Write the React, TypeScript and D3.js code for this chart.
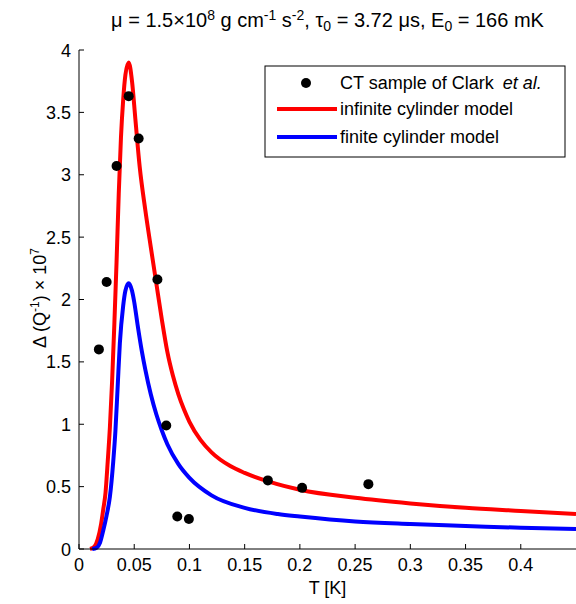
import React from "react";
import * as d3 from "d3";

const W = 576;
const H = 604;

// Measured data points: CT sample of Clark et al.
const DATA_T = [0.018, 0.025, 0.034, 0.045, 0.054, 0.071, 0.079, 0.089, 0.0995, 0.171, 0.202, 0.262];
const DATA_Q = [1.6, 2.14, 3.07, 3.63, 3.29, 2.16, 0.99, 0.26, 0.24, 0.55, 0.49, 0.52];

// Infinite cylinder model
const RED_T = [0.010, 0.014, 0.017, 0.020, 0.022, 0.024, 0.026, 0.028, 0.030, 0.032, 0.034, 0.036, 0.038, 0.040, 0.042, 0.045, 0.048, 0.051, 0.055, 0.060, 0.065, 0.070, 0.075, 0.080, 0.085, 0.090, 0.095, 0.100, 0.110, 0.120, 0.137, 0.150, 0.172, 0.200, 0.250, 0.300, 0.350, 0.400, 0.450];
const RED_Q = [0, 0.02, 0.08, 0.2, 0.32, 0.45, 0.7, 0.98, 1.35, 1.8, 2.3, 2.85, 3.3, 3.6, 3.8, 3.9, 3.75, 3.45, 3.06, 2.72, 2.42, 2.13, 1.84, 1.58, 1.39, 1.24, 1.12, 1.02, 0.875, 0.775, 0.665, 0.61, 0.54, 0.475, 0.41, 0.365, 0.33, 0.305, 0.28];

// Finite cylinder model
const BLUE_T = [0.012, 0.016, 0.019, 0.022, 0.025, 0.028, 0.031, 0.033, 0.035, 0.037, 0.040, 0.042, 0.045, 0.048, 0.050, 0.053, 0.057, 0.060, 0.065, 0.070, 0.075, 0.080, 0.090, 0.100, 0.120, 0.150, 0.180, 0.200, 0.250, 0.300, 0.350, 0.400, 0.450];
const BLUE_Q = [0, 0.01, 0.05, 0.15, 0.27, 0.42, 0.7, 0.95, 1.3, 1.65, 1.95, 2.07, 2.13, 2.07, 1.98, 1.8, 1.58, 1.44, 1.24, 1.08, 0.95, 0.84, 0.68, 0.57, 0.43, 0.33, 0.28, 0.26, 0.22, 0.2, 0.185, 0.17, 0.16];

const X_TICKS = [0, 0.05, 0.1, 0.15, 0.2, 0.25, 0.3, 0.35, 0.4];
const X_TICK_LABELS = ["0", "0.05", "0.1", "0.15", "0.2", "0.25", "0.3", "0.35", "0.4"];
const Y_TICKS = [0, 0.5, 1, 1.5, 2, 2.5, 3, 3.5, 4];
const Y_TICK_LABELS = ["0", "0.5", "1", "1.5", "2", "2.5", "3", "3.5", "4"];

const LEGEND_LABELS = ["CT sample of Clark", "infinite cylinder model", "finite cylinder model"];

const FONT = "'Liberation Sans', Arial, Helvetica, sans-serif";

export default function App() {
  const x = d3.scaleLinear().domain([0, 0.45]).range([79, 576]);
  const y = d3.scaleLinear().domain([0, 4]).range([549, 50]);

  const line = d3
    .line<[number, number]>()
    .x((d) => x(d[0]))
    .y((d) => y(d[1]))
    .curve(d3.curveMonotoneX);

  const redPath = line(RED_T.map((t, i) => [t, RED_Q[i]] as [number, number])) || "";
  const bluePath = line(BLUE_T.map((t, i) => [t, BLUE_Q[i]] as [number, number])) || "";

  const fs = 18;
  const axisCenter = (x.range()[0] + x.range()[1]) / 2;

  return (
    <svg
      width={W}
      height={H}
      style={{ position: "absolute", left: 0, top: 0, background: "#fff" }}
      fontFamily={FONT}
    >
      <rect x={0} y={0} width={W} height={H} fill="#fff" />
      {/* Title */}
      <text x={axisCenter} y={27} fontSize={20} textAnchor="middle" fill="#000">
        <tspan>μ = 1.5×10</tspan>
        <tspan dy={-7} fontSize={14}>8</tspan>
        <tspan dy={7}> g cm</tspan>
        <tspan dy={-7} fontSize={14}>-1</tspan>
        <tspan dy={7}> s</tspan>
        <tspan dy={-7} fontSize={14}>-2</tspan>
        <tspan dy={7}>, τ</tspan>
        <tspan dy={4} fontSize={14}>0</tspan>
        <tspan dy={-4}> = 3.72 μs, E</tspan>
        <tspan dy={4} fontSize={14}>0</tspan>
        <tspan dy={-4}> = 166 mK</tspan>
      </text>

      {/* Curves */}
      <path d={redPath} fill="none" stroke="#ff0000" strokeWidth={4} />
      <path d={bluePath} fill="none" stroke="#0000ff" strokeWidth={4} />

      {/* Data points */}
      {DATA_T.map((t, i) => (
        <circle key={i} cx={x(t)} cy={y(DATA_Q[i])} r={5} fill="#000" />
      ))}

      {/* Axes */}
      <line x1={79} y1={y(0)} x2={576} y2={y(0)} stroke="#000" strokeWidth={1} />
      <line x1={79} y1={y(0)} x2={79} y2={y(4)} stroke="#000" strokeWidth={1} />
      {X_TICKS.map((t, i) => (
        <g key={"xt" + i}>
          <line x1={x(t)} x2={x(t)} y1={y(0)} y2={y(0) - 5} stroke="#000" />
          <text x={x(t)} y={y(0) + 22} fontSize={fs} textAnchor="middle" fill="#000">
            {X_TICK_LABELS[i]}
          </text>
        </g>
      ))}
      {Y_TICKS.map((t, i) => (
        <g key={"yt" + i}>
          <line x1={79} x2={84} y1={y(t)} y2={y(t)} stroke="#000" />
          <text x={71} y={y(t) + 6.5} fontSize={fs} textAnchor="end" fill="#000">
            {Y_TICK_LABELS[i]}
          </text>
        </g>
      ))}

      {/* Axis labels */}
      <text x={axisCenter} y={594} fontSize={fs} textAnchor="middle" fill="#000">
        T [K]
      </text>
      <text transform={`translate(46, 298) rotate(-90)`} fontSize={fs} textAnchor="middle" fill="#000">
        <tspan>Δ (Q</tspan>
        <tspan dy={-7} fontSize={12}>-1</tspan>
        <tspan dy={7}>) × 10</tspan>
        <tspan dy={-7} fontSize={12}>7</tspan>
      </text>

      {/* Legend */}
      <rect x={265} y={66} width={300} height={91} fill="#fff" stroke="#000" strokeWidth={1} />
      <circle cx={306} cy={83} r={5} fill="#000" />
      <text x={340} y={89} fontSize={18} fill="#000">
        {LEGEND_LABELS[0]}
        <tspan dx={9} fontStyle="italic">et al.</tspan>
      </text>
      <line x1={277} x2={337} y1={109} y2={109} stroke="#ff0000" strokeWidth={4} />
      <text x={340} y={115} fontSize={18} fill="#000">
        {LEGEND_LABELS[1]}
      </text>
      <line x1={277} x2={337} y1={137} y2={137} stroke="#0000ff" strokeWidth={4} />
      <text x={340} y={143} fontSize={18} fill="#000">
        {LEGEND_LABELS[2]}
      </text>
    </svg>
  );
}
